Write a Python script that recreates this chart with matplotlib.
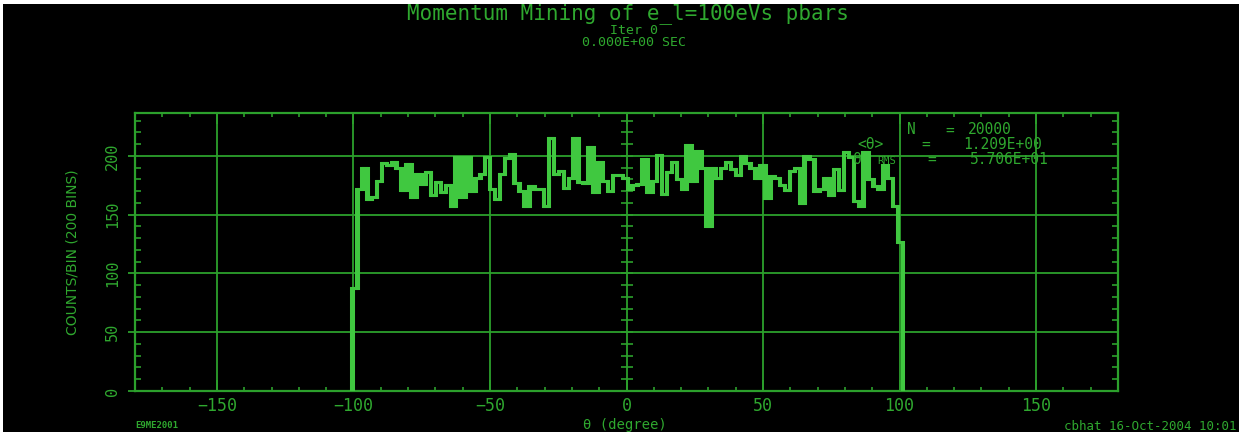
import numpy as np
import matplotlib
matplotlib.use("Agg")
import matplotlib.pyplot as plt
import matplotlib.transforms as mtransforms
from matplotlib.patches import Rectangle
from matplotlib.ticker import FixedLocator, MultipleLocator

# ---- histogram definition: 200 bins over [-180, 180] degrees ----
n_bins = 200
theta_range = (-180.0, 180.0)
first_filled_bin = 44          # bin [-100.8, -99.0]

# counts per bin, starting at first_filled_bin
bin_counts = [
    88, 172, 190, 163, 165, 179, 194, 192, 195, 190,
    171, 193, 165, 185, 176, 186, 167, 178, 169, 175,
    157, 199, 165, 199, 170, 181, 185, 199, 172, 163,
    185, 198, 202, 177, 170, 157, 174, 172, 172, 157,
    215, 185, 187, 173, 181, 215, 178, 177, 208, 169,
    195, 179, 170, 184, 184, 181, 172, 175, 176, 197,
    169, 179, 201, 168, 186, 195, 180, 172, 209, 179,
    204, 190, 140, 190, 181, 190, 195, 189, 184, 200,
    194, 190, 181, 192, 164, 183, 181, 175, 171, 187,
    190, 160, 200, 197, 170, 172, 181, 167, 189, 171,
    203, 199, 162, 157, 203, 180, 174, 172, 192, 181,
    157, 127,
]

x_ticks = [-150, -100, -50, 0, 50, 100, 150]
y_ticks = [0, 50, 100, 150, 200]

title = "Momentum Mining of e_l=100eVs pbars"
subtitle_1 = "Iter 0"
subtitle_2 = "0.000E+00 SEC"
x_label = "\u03b8 (degree)"
y_label = "COUNTS/BIN (200 BINS)"
stat_names = ["N", "<\u03b8>", "\u03b8"]
stat_values = ["20000", "1.209E+00", "5.706E+01"]
footer_left = "E9ME2001"
footer_right = "cbhat 16-Oct-2004 10:01"

# ---- style ----
HIST = "#40c840"
AXC = "#2ca02c"
TXT = "#2fa82f"
plt.rcParams["font.family"] = ["DejaVu Sans Mono", "DejaVu Sans"]

W, H = 1239, 432
fig = plt.figure(figsize=(W / 100, H / 100), dpi=100, facecolor="black")
fig.patches.append(Rectangle((0, 1 - 4 / H), 1, 4 / H, transform=fig.transFigure,
                             facecolor="white", edgecolor="none"))
fig.patches.append(Rectangle((0, 0), 3 / W, 1, transform=fig.transFigure,
                             facecolor="white", edgecolor="none"))

ax = fig.add_axes([135 / W, 1 - 391 / H, 983 / W, 278 / H], facecolor="black")

edges = np.linspace(theta_range[0], theta_range[1], n_bins + 1)
vals = np.asarray(bin_counts, dtype=float)
sub_edges = edges[first_filled_bin:first_filled_bin + len(vals) + 1]

# step outline, drawn twice with a small horizontal offset for a broad pen
ax.stairs(vals, sub_edges, baseline=0, color=HIST, linewidth=2.2, zorder=3)
pen_shift = mtransforms.offset_copy(ax.transData, fig=fig, x=1.5, y=0, units="dots")
ax.stairs(vals, sub_edges, baseline=0, color=HIST, linewidth=2.2, zorder=3,
          transform=pen_shift)

ax.set_xlim(*theta_range)
ax.set_ylim(0, 236.5)
ax.set_axisbelow(True)

ax.xaxis.set_major_locator(FixedLocator(x_ticks))
ax.xaxis.set_minor_locator(MultipleLocator(10))
ax.yaxis.set_major_locator(FixedLocator(y_ticks))
ax.yaxis.set_minor_locator(MultipleLocator(10))

ax.grid(True, which="major", color=AXC, linewidth=1.3)
for s in ax.spines.values():
    s.set_color(AXC)
    s.set_linewidth(1.6)

ax.tick_params(axis="x", which="major", direction="in", length=8, width=1.3,
               color=AXC, labelcolor=TXT, labelsize=12, pad=4, top=True)
ax.tick_params(axis="x", which="minor", direction="in", length=3, width=1.2,
               color=AXC, top=True)
ax.tick_params(axis="y", which="major", direction="out", length=5, width=1.3,
               color=AXC, labelcolor=TXT, labelsize=11, pad=6, labelrotation=90)
ax.tick_params(axis="y", which="minor", direction="in", length=4.5, width=1.2,
               color=AXC, right=True)
for lab in ax.get_yticklabels():
    lab.set_verticalalignment("center")

# tick marks along the vertical axis through theta = 0
y_minor = np.arange(10, 236, 10)
ax.plot(np.zeros_like(y_minor), y_minor, linestyle="none", marker="_",
        markersize=8, markeredgewidth=1.2, color=AXC, zorder=2)

ax.set_xlabel(x_label, color=TXT, fontsize=10)
ax.xaxis.set_label_coords(0.5 - 2 / 983, -(418 - 391) / 278)
fig.text(73 / W, 1 - 252 / H, y_label, rotation=90, ha="center", va="center",
         color=TXT, fontsize=10, family="DejaVu Sans")

# header
fig.text(628 / W, 1 - 14 / H, title, ha="center", va="center", color=TXT, fontsize=15)
fig.text(634 / W, 1 - 31 / H, subtitle_1, ha="center", va="center", color=TXT, fontsize=9.5)
fig.text(634 / W, 1 - 42 / H, subtitle_2, ha="center", va="center", color=TXT, fontsize=9.5)

# statistics block
stat_rows_y = [130, 144.5, 159]
stat_name_x = [907, 857, 853]
stat_eq_x = [950, 926, 932]
stat_value_x = [968, 963, 970]
for name, value, yy, nx, ex, vx in zip(stat_names, stat_values, stat_rows_y,
                                       stat_name_x, stat_eq_x, stat_value_x):
    fig.text(nx / W, 1 - yy / H, name, ha="left", va="center", color=TXT, fontsize=10.5)
    fig.text(ex / W, 1 - yy / H, "=", ha="center", va="center", color=TXT, fontsize=10.5)
    fig.text(vx / W, 1 - yy / H, value, ha="left", va="center", color=TXT, fontsize=10.5)
fig.text(877 / W, 1 - 161 / H, "RMS", ha="left", va="center", color=TXT, fontsize=7.5)

# footers
fig.text(135 / W, 1 - 426 / H, footer_left, ha="left", va="center", color=TXT,
         fontsize=6.5, fontweight="bold")
fig.text(1236 / W, 1 - 426 / H, footer_right, ha="right", va="center", color=TXT,
         fontsize=9)

fig.savefig("out.png", dpi=100, facecolor="black")
